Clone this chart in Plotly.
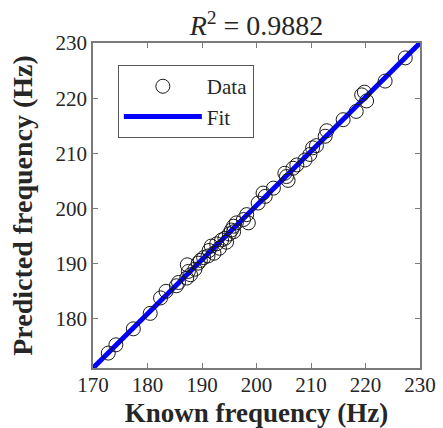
import plotly.graph_objects as go

# ---------------------------------------------------------------------------
# Data
# ---------------------------------------------------------------------------

known_hz = [
    172.8, 174.2, 177.4, 180.5, 182.4, 183.4, 185.3, 185.7, 187.2, 187.5,
    187.3, 188.7, 189.3, 190.3, 191.1, 191.7, 192.7, 193.2, 193.6, 194.2,
    194.5, 195.4, 195.8, 196.3, 197.6, 198.5, 198.2, 200.3, 201.2, 201.6,
    203.1, 205.5, 205.8, 205.2, 206.7, 207.4, 208.9, 209.8, 210.3, 211.0,
    212.6, 212.9, 215.9, 218.3, 219.3, 219.8, 220.2, 223.6, 227.3,
    187.9, 189.7, 191.3, 192.2, 195.0, 195.8,
]
predicted_hz = [
    173.8, 175.3, 178.2, 181.0, 183.8, 185.0, 186.0, 186.6, 187.4, 188.6,
    189.8, 189.0, 190.1, 191.1, 191.4, 193.2, 193.6, 192.8, 194.3, 194.6,
    193.9, 196.1, 196.8, 197.4, 198.0, 197.4, 198.9, 201.0, 202.8, 202.2,
    203.7, 205.8, 205.1, 206.4, 207.3, 207.9, 208.8, 209.8, 211.0, 211.4,
    213.1, 214.1, 216.1, 217.6, 220.6, 221.1, 219.5, 223.1, 227.3,
    188.0, 190.6, 192.4, 191.9, 195.4, 195.8,
]

fit_x = [170, 230]
fit_y = [171.1, 230.0]

r_squared = 0.9882

x_ticks = [170, 180, 190, 200, 210, 220, 230]
y_ticks = [180, 190, 200, 210, 220, 230]

FONT = "Liberation Serif, Times New Roman, serif"
TEXT_COLOR = "#262626"
AXIS_COLOR = "#7a7a7a"

# ---------------------------------------------------------------------------
# Figure
# ---------------------------------------------------------------------------

fig = go.Figure()

fig.add_trace(go.Scatter(
    x=fit_x, y=fit_y,
    mode="lines", name="Fit",
    line=dict(color="#0000ff", width=5),
    legendrank=2,
))

fig.add_trace(go.Scatter(
    x=known_hz, y=predicted_hz,
    mode="markers", name="Data",
    marker=dict(symbol="circle-open", size=14, color="#1a1a1a",
                line=dict(width=1, color="#1a1a1a")),
    legendrank=1,
))

axis_common = dict(
    showline=True, linecolor=AXIS_COLOR, linewidth=1.5, mirror="ticks",
    ticks="inside", ticklen=5, tickcolor=AXIS_COLOR, tickwidth=1,
    showgrid=False, zeroline=False,
    tickfont=dict(family=FONT, size=21, color=TEXT_COLOR),
)

fig.update_xaxes(
    range=[170, 230], tickvals=x_ticks, ticklabelstandoff=-3,
    title=dict(text="<b>Known frequency (Hz)</b>",
               font=dict(family=FONT, size=27, color=TEXT_COLOR)),
    **axis_common,
)
fig.update_yaxes(
    range=[171.1, 230], tickvals=y_ticks,
    title=dict(text="<b>Predicted frequency (Hz)</b>",
               font=dict(family=FONT, size=28, color=TEXT_COLOR)),
    **axis_common,
)

fig.update_layout(
    width=443, height=428,
    margin=dict(l=93, r=23, t=43, b=60, autoexpand=False),
    paper_bgcolor="white", plot_bgcolor="white",
    font=dict(family=FONT, color=TEXT_COLOR),
    title=dict(
        text=f"<i>R</i><sup>2</sup> = {r_squared}",
        font=dict(family=FONT, size=28, color=TEXT_COLOR),
        x=0.5, xref="paper", xanchor="center",
        y=0.94, yref="container", yanchor="middle",
    ),
    legend=dict(
        x=0.076, y=0.932, xanchor="left", yanchor="top",
        bgcolor="white", bordercolor="#555555", borderwidth=1,
        font=dict(family=FONT, size=21, color=TEXT_COLOR),
        itemwidth=78, tracegroupgap=0,
    ),
    showlegend=True,
)

# the page body has a default 8px margin; drop it so the figure sits at 0,0
fig.write_html(
    "out.html",
    config={"displayModeBar": False},
    post_script="document.body.style.margin='0px';",
)
